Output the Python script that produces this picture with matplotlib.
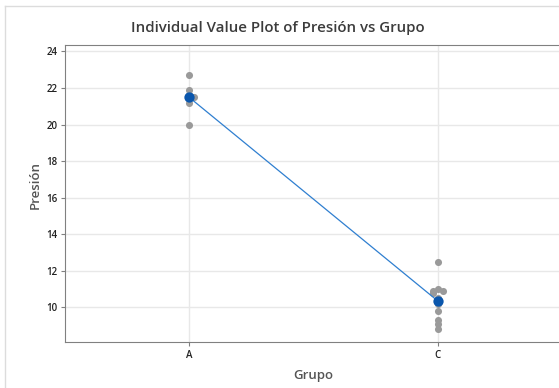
import matplotlib.pyplot as plt
from matplotlib.lines import Line2D
import numpy as np

plt.rcParams['font.family'] = ['Open Sans', 'DejaVu Sans']

groups = ['A', 'C']
presion_a = [22.7, 21.9, 21.6, 21.5, 21.2, 20.0]
presion_c = [12.5, 11.0, 10.9, 10.9, 10.8, 10.5, 10.2, 9.8, 9.3, 9.1, 8.8]
y_ticks = [10, 12, 14, 16, 18, 20, 22, 24]

fig = plt.figure(figsize=(5.59, 3.88), dpi=100)
ax = fig.add_axes([65 / 559, 46 / 388, 497 / 559, 297 / 388])

# outer window frame
fig.add_artist(Line2D([5 / 559, 1], [1 - 6 / 388] * 2, color='#dcdcdc', lw=1))
fig.add_artist(Line2D([5 / 559] * 2, [0, 1 - 6 / 388], color='#dcdcdc', lw=1))


def spread(vals, step=0.02):
    # push near-identical values sideways so they don't hide each other
    offs = []
    for i, v in enumerate(vals):
        n = sum(1 for w in vals[:i] if abs(w - v) < 0.15)
        offs.append(0 if n == 0 else step * ((n + 1) // 2) * (1 if n % 2 else -1))
    return np.array(offs)


means = []
for i, vals in enumerate([presion_a, presion_c]):
    x = i + 1 + spread(vals)
    ax.scatter(x, vals, s=26, color='#9a9a9a', zorder=3, linewidths=0)
    means.append(np.mean(vals))

ax.plot([1, 2], means, color='#2f7fd0', lw=0.9, zorder=4)
ax.scatter([1, 2], means, s=55, color='#0a56ac', zorder=5, linewidths=0)

ax.set_xlim(0.5, 2.5)
ax.set_ylim(8.1, 24.35)
ax.set_xticks([1, 2])
ax.set_xticklabels(groups)
ax.set_yticks(y_ticks)
ax.grid(True, color='#e8e8e8', lw=1)
ax.set_axisbelow(True)
ax.tick_params(length=3, width=0.8, color='#808080', labelsize=7,
               labelcolor='#222222', pad=2.5)
for lab in ax.get_xticklabels() + ax.get_yticklabels():
    lab.set_fontweight('semibold')
for s in ['left', 'bottom', 'top']:
    ax.spines[s].set_color('#808080')
ax.spines['right'].set_visible(False)

fig.text(313 / 559, 1 - 376 / 388, 'Grupo', ha='center', va='center',
         fontsize=9.5, color='#555555', fontweight='semibold')
fig.text(35 / 559, 1 - 185 / 388, 'Presión', ha='center', va='center',
         rotation=90, fontsize=9.5, color='#555555', fontweight='semibold')
fig.text(278 / 559, 1 - 28 / 388, 'Individual Value Plot of Presión vs Grupo',
         ha='center', va='center', fontsize=10.8, color='#3c3c3c',
         fontweight='semibold')

fig.savefig('out.png', dpi=100)
